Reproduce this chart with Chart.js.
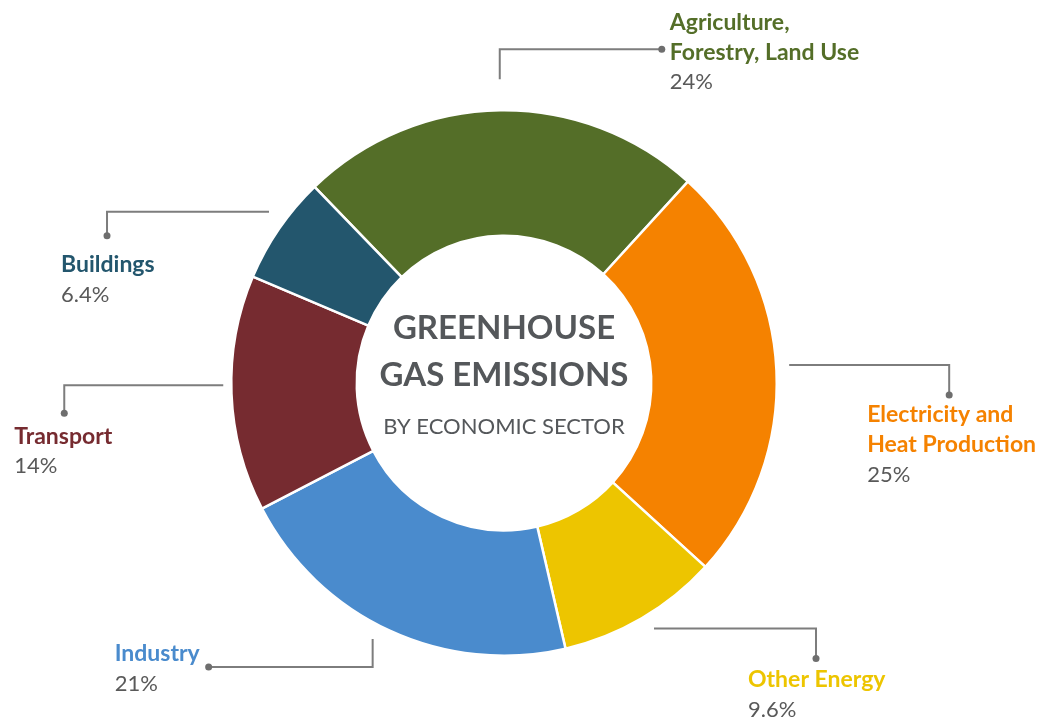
<!DOCTYPE html>
<html>
<head>
<meta charset="utf-8">
<script src="https://cdn.jsdelivr.net/npm/chart.js@4/dist/chart.umd.min.js"></script>
<style>
  html, body { margin: 0; padding: 0; background: #fff; }
  #wrap { width: 1040px; height: 718px; position: relative; }
</style>
</head>
<body>
<div id="wrap"><canvas id="ghg_chart" width="1040" height="718"></canvas></div>
<script>
// 部門ごとの排出割合（%）
const sectors = ['Agriculture, Forestry, Land Use', 'Electricity and Heat Production', 'Other Energy', 'Industry', 'Transport', 'Buildings'];
const shares = [24, 25, 9.6, 21, 14, 6.4];
const shareLabels = ['24%', '25%', '9.6%', '21%', '14%', '6.4%'];
// ラベルの改行
const labelLines = [
    ['Agriculture,', 'Forestry, Land Use'],
    ['Electricity and', 'Heat Production'],
    ['Other Energy'],
    ['Industry'],
    ['Transport'],
    ['Buildings'],
];
const colors = ['#546e28', '#f58200', '#edc500', '#4a8bcd', '#762b30', '#23566d'];

// 引き出し線の形（gap: 外周からの距離, shift: 角度の微調整(度), 1本目→2本目, 文字の位置は点からの相対）
const leaders = [
    { gap: 31, shift: 0,    first: ['v', -30], second: ['h', 162],  text: [8, -27] },
    { gap: 13, shift: -1,   first: ['h', 160], second: ['v', 30],   text: [-82, 20] },
    { gap: 15, shift: -1.1, first: ['h', 162], second: ['v', 30],   text: [-68, 21] },
    { gap: 15, shift: 2.4,  first: ['v', 28],  second: ['h', -164], text: [-94, -13] },
    { gap: 8,  shift: 1.8,  first: ['h', -159], second: ['v', 28],  text: [-50, 23] },
    { gap: 18, shift: 1.6,  first: ['h', -162], second: ['v', 24],  text: [-46, 29] },
];

const FONT = 'Lato, "Open Sans", sans-serif';

// 引き出し線と部門ラベル、中央タイトル
const calloutPlugin = {
    id: 'callouts',
    afterDraw(chart) {
        const ctx = chart.ctx;
        const arcs = chart.getDatasetMeta(0).data;
        ctx.save();
        arcs.forEach((arc, i) => {
            const mid = (arc.startAngle + arc.endAngle) / 2 + leaders[i].shift * Math.PI / 180;
            const r = arc.outerRadius + leaders[i].gap;
            let x = arc.x + Math.cos(mid) * r;
            let y = arc.y + Math.sin(mid) * r;
            ctx.strokeStyle = '#7d7d7d';
            ctx.lineWidth = 2;
            ctx.beginPath();
            ctx.moveTo(x, y);
            [leaders[i].first, leaders[i].second].forEach(([dir, len]) => {
                if (dir === 'v') y += len; else x += len;
                ctx.lineTo(x, y);
            });
            ctx.stroke();
            ctx.fillStyle = '#6e6e6e';
            ctx.beginPath();
            ctx.arc(x, y, 3.5, 0, Math.PI * 2);
            ctx.fill();

            // 部門名と割合
            const tx = x + leaders[i].text[0];
            let ty = y + leaders[i].text[1];
            ctx.textAlign = 'left';
            ctx.textBaseline = 'middle';
            ctx.font = 'bold 23px ' + FONT;
            ctx.fillStyle = colors[i];
            labelLines[i].forEach(line => {
                ctx.fillText(line, tx, ty);
                ty += 30;
            });
            ctx.font = '22px ' + FONT;
            ctx.fillStyle = '#595959';
            ctx.fillText(shareLabels[i], tx, ty);
        });

        // 中央のタイトル
        const cx = arcs[0].x;
        const cy = arcs[0].y;
        ctx.textAlign = 'center';
        ctx.textBaseline = 'middle';
        ctx.fillStyle = '#54575a';
        ctx.font = 'bold 33px ' + FONT;
        ctx.fillText('GREENHOUSE', cx, cy - 55);
        ctx.fillText('GAS EMISSIONS', cx, cy - 8);
        ctx.font = '22px ' + FONT;
        ctx.fillText('BY ECONOMIC SECTOR', cx, cy + 44);
        ctx.restore();
    }
};

new Chart(document.getElementById('ghg_chart').getContext('2d'), {
    type: 'doughnut',
    data: {
        labels: sectors,
        datasets: [{
            data: shares,
            backgroundColor: colors,
            borderColor: '#ffffff',
            borderWidth: 2.5,
        }],
    },
    options: {
        responsive: false,
        animation: false,
        rotation: -44,
        cutout: '54%',
        layout: { padding: { top: 109, bottom: 61, left: 100, right: 132 } },
        plugins: {
            legend: { display: false },
            tooltip: { enabled: false },
        },
    },
    plugins: [calloutPlugin],
});
</script>
</body>
</html>
